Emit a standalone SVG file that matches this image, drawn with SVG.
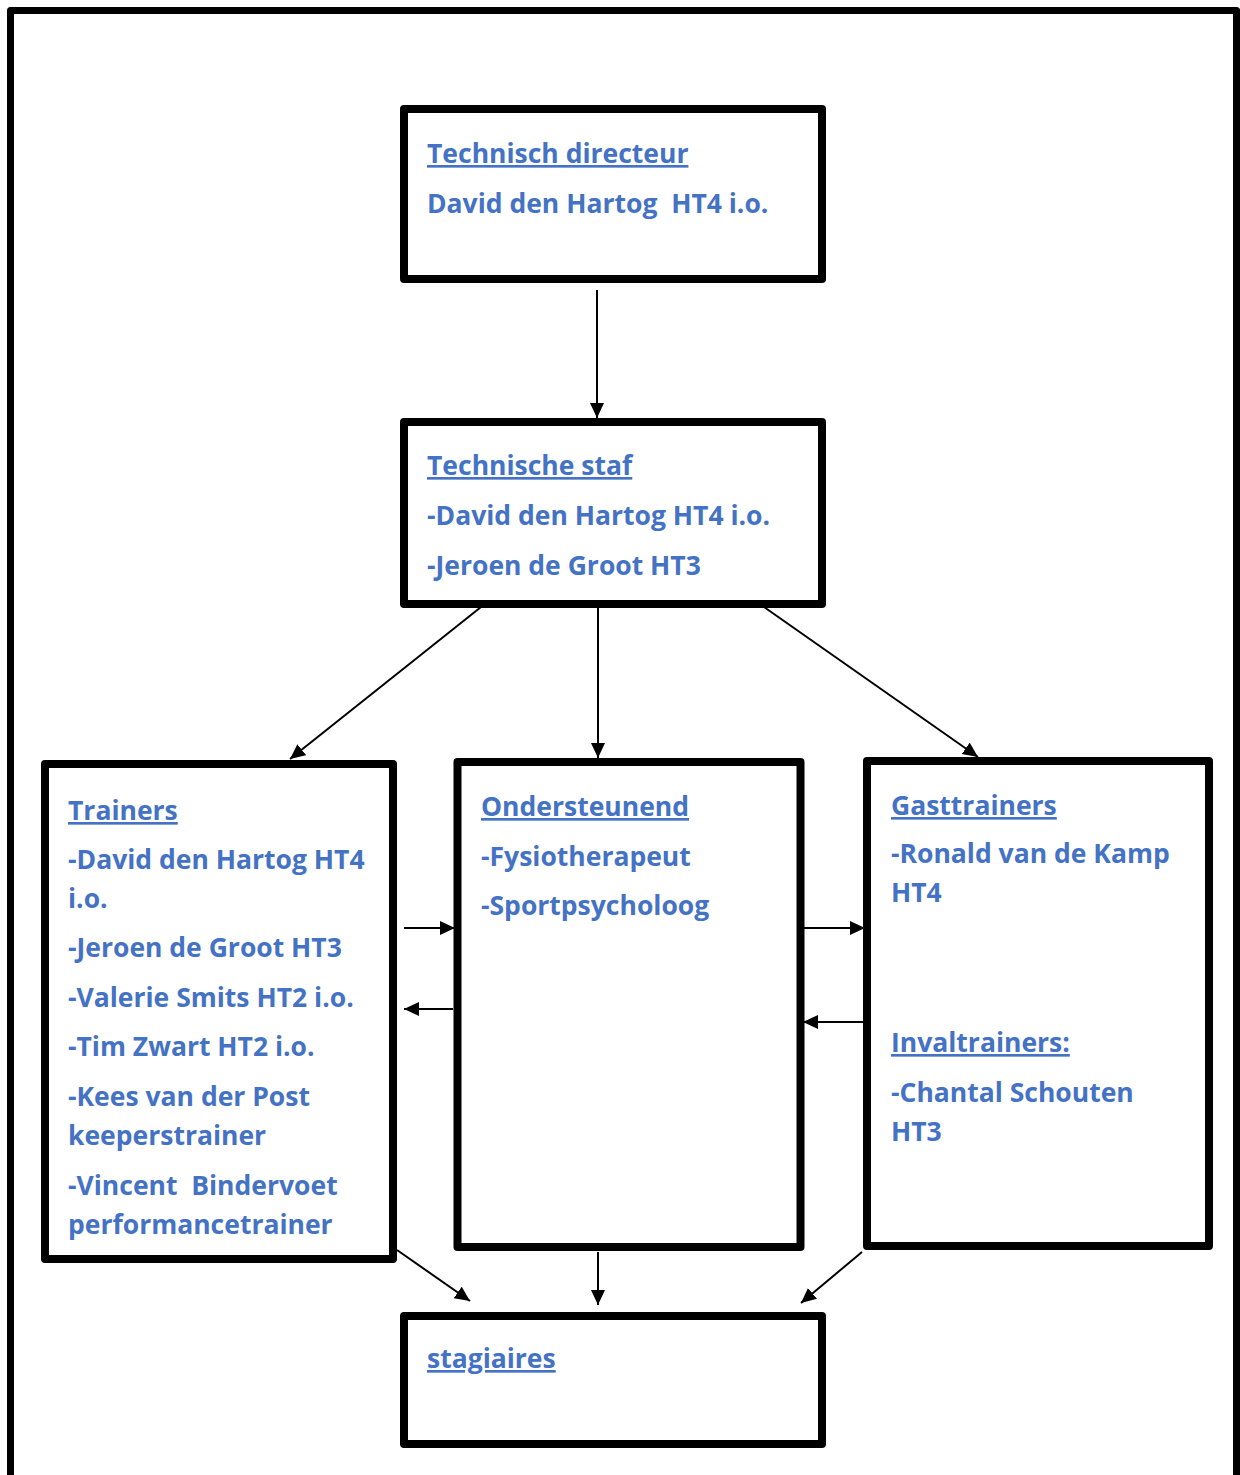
<svg xmlns="http://www.w3.org/2000/svg" width="1240" height="1475" viewBox="0 0 1240 1475">
<style>
.box{fill:#fff;stroke:#000;stroke-width:8;stroke-linejoin:round}
.t{font-family:"Open Sans","Noto Sans","Liberation Sans",sans-serif;font-weight:bold;font-size:26.5px;fill:#4472C4}
.u{text-decoration:underline}
.c{stroke:#000;stroke-width:2;fill:none;marker-end:url(#ah)}
</style>
<defs>
<marker id="ah" markerUnits="userSpaceOnUse" markerWidth="16" markerHeight="16" refX="15" refY="7" orient="auto">
<path d="M0,0 L15,7 L0,14 Z" fill="#000"/>
</marker>
</defs>
<rect width="1240" height="1475" fill="#fff"/>
<path d="M10.5,1480 V10.5 H1236.5 V1480" fill="none" stroke="#000" stroke-width="7" stroke-linejoin="round"/>

<g id="connectors">
<line class="c" x1="597" y1="290" x2="597" y2="418"/>
<line class="c" x1="481" y1="607" x2="290" y2="759"/>
<line class="c" x1="598" y1="607" x2="598" y2="758"/>
<line class="c" x1="764" y1="607" x2="978" y2="757"/>
<line class="c" x1="404" y1="928" x2="455" y2="928"/>
<line class="c" x1="453" y1="1009" x2="404" y2="1009"/>
<line class="c" x1="804" y1="928" x2="865" y2="928"/>
<line class="c" x1="863" y1="1022" x2="803" y2="1022"/>
<line class="c" x1="397" y1="1250" x2="470" y2="1301"/>
<line class="c" x1="598" y1="1252" x2="598" y2="1305"/>
<line class="c" x1="862" y1="1252" x2="801" y2="1303"/>
</g>

<g id="technisch-directeur">
<rect class="box" x="404" y="109" width="418" height="170"/>
<text class="t u" x="427" y="163">Technisch directeur</text>
<text class="t" x="427" y="213" xml:space="preserve">David den Hartog  HT4 i.o.</text>
</g>

<g id="technische-staf">
<rect class="box" x="404" y="422" width="418" height="182"/>
<text class="t u" x="427" y="475">Technische staf</text>
<text class="t" x="427" y="525">-David den Hartog HT4 i.o.</text>
<text class="t" x="427" y="575">-Jeroen de Groot HT3</text>
</g>

<g id="trainers">
<rect class="box" x="45" y="764" width="348" height="495"/>
<text class="t u" x="68" y="820">Trainers</text>
<text class="t" x="68" y="869">-David den Hartog HT4</text>
<text class="t" x="68" y="908">i.o.</text>
<text class="t" x="68" y="957">-Jeroen de Groot HT3</text>
<text class="t" x="68" y="1007">-Valerie Smits HT2 i.o.</text>
<text class="t" x="68" y="1056">-Tim Zwart HT2 i.o.</text>
<text class="t" x="68" y="1106">-Kees van der Post</text>
<text class="t" x="68" y="1145">keeperstrainer</text>
<text class="t" x="68" y="1195" xml:space="preserve">-Vincent  Bindervoet</text>
<text class="t" x="68" y="1234">performancetrainer</text>
</g>

<g id="ondersteunend">
<rect class="box" x="457.5" y="762" width="343" height="485"/>
<text class="t u" x="481" y="816">Ondersteunend</text>
<text class="t" x="481" y="866">-Fysiotherapeut</text>
<text class="t" x="481" y="915">-Sportpsycholoog</text>
</g>

<g id="gasttrainers">
<rect class="box" x="867" y="761" width="342" height="485"/>
<text class="t u" x="891" y="815">Gasttrainers</text>
<text class="t" x="891" y="863">-Ronald van de Kamp</text>
<text class="t" x="891" y="902">HT4</text>
<text class="t u" x="891" y="1052">Invaltrainers:</text>
<text class="t" x="891" y="1102">-Chantal Schouten</text>
<text class="t" x="891" y="1141">HT3</text>
</g>

<g id="stagiaires">
<rect class="box" x="404" y="1316" width="418" height="128"/>
<text class="t u" x="427" y="1368">stagiaires</text>
</g>
</svg>
